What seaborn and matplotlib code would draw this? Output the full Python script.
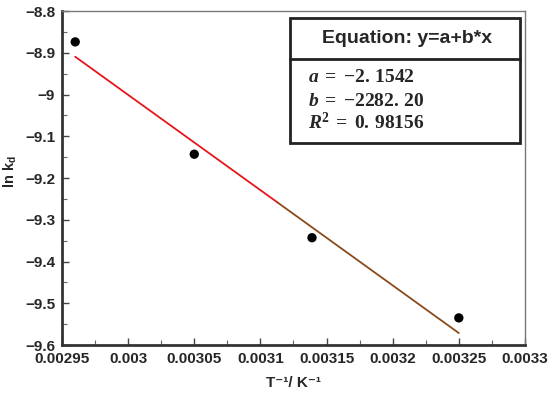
import numpy as np
import pandas as pd
import seaborn as sns
import matplotlib.pyplot as plt
from matplotlib.patches import Rectangle
from matplotlib.ticker import MultipleLocator, FuncFormatter

# Datos experimentales (ln kd frente a 1/T)
inv_T = [0.00296, 0.00305, 0.003139, 0.00325]
ln_kd = [-8.874, -9.143, -9.343, -9.535]

# Parámetros del ajuste lineal
a_fit = -2.1542
b_fit = -2282.20
r2_fit = 0.98156
x_red = [0.00296, 0.003113]
x_brown = [0.003113, 0.00325]

sns.set_theme(style="ticks")
plt.rcParams['font.family'] = ['Liberation Sans', 'DejaVu Sans']
plt.rcParams['font.weight'] = 'bold'
plt.rcParams['mathtext.fontset'] = 'custom'
plt.rcParams['mathtext.rm'] = 'Liberation Serif'
plt.rcParams['mathtext.it'] = 'Liberation Serif:italic'
plt.rcParams['mathtext.bf'] = 'Liberation Serif:bold'
plt.rcParams['mathtext.bfit'] = 'Liberation Serif:italic:bold'

fig = plt.figure(figsize=(5.5, 3.93), dpi=100)
ax = fig.add_axes([0.1127, 0.1221, 0.8418, 0.8499])

df = pd.DataFrame({"x": inv_T, "y": ln_kd})
fit_red = pd.DataFrame({"x": x_red, "y": [a_fit + b_fit * v for v in x_red]})
fit_brown = pd.DataFrame({"x": x_brown, "y": [a_fit + b_fit * v for v in x_brown]})

sns.lineplot(data=fit_red, x="x", y="y", color="#e8141c", lw=1.3, ax=ax)
sns.lineplot(data=fit_brown, x="x", y="y", color="#8b4a1a", lw=1.3, ax=ax)
sns.scatterplot(data=df, x="x", y="y", color="black", s=45, edgecolor="none", ax=ax, zorder=5)

ax.set_xlim(0.00295, 0.0033)
ax.set_ylim(-9.6, -8.8)
ax.xaxis.set_major_locator(MultipleLocator(0.00005))
ax.xaxis.set_minor_locator(MultipleLocator(0.000025))
ax.yaxis.set_major_locator(MultipleLocator(0.1))
ax.yaxis.set_minor_locator(MultipleLocator(0.05))
fmt = FuncFormatter(lambda v, p: ('%g' % round(v, 6)).replace('-', '\u2212'))
ax.xaxis.set_major_formatter(fmt)
ax.yaxis.set_major_formatter(fmt)
ax.tick_params(which='both', direction='in', top=False, right=False, labelsize=11, pad=5)
ax.tick_params(which='major', length=5, width=1, color='#444')
ax.tick_params(which='minor', length=3.5, width=0.8, color='#666')

for s in ['left', 'bottom']:
    ax.spines[s].set_linewidth(2)
    ax.spines[s].set_color('#333333')
for s in ['top', 'right']:
    ax.spines[s].set_linewidth(1)
    ax.spines[s].set_color('#777777')

ax.set_xlabel('T\u207b\u00b9/ K\u207b\u00b9', fontsize=11, fontweight='bold', labelpad=7)
ax.set_ylabel(r'ln k$_{\mathregular{d}}$', fontsize=10.5, fontweight='bold', labelpad=4)
ax.yaxis.label.set_y(0.52)

# Cuadro con la ecuación
ax.add_patch(Rectangle((0.4925, 0.605), 0.4965, 0.374, transform=ax.transAxes,
                       fill=False, lw=2, ec='#222222', zorder=6))
ax.plot([0.4925, 0.989], [0.856, 0.856], transform=ax.transAxes, color='#222222', lw=2, zorder=6)
ax.text(0.745, 0.917, 'Equation: y=a+b*x', transform=ax.transAxes, ha='center', va='center',
        fontsize=14, fontweight='bold')
a_int, a_dec = f"{-a_fit:.4f}".split('.')
b_int, b_dec = f"{-b_fit:.2f}".split('.')
r_int, r_dec = f"{r2_fit:.5f}".split('.')
lines = [r'$\mathbfit{a}\;=\;\mathbf{{-}%s.\,%s}$' % (a_int, a_dec),
         r'$\mathbfit{b}\;=\;\mathbf{{-}%s.\,%s}$' % (b_int, b_dec),
         r'$\mathbfit{R}^{\mathbf{2}}\;=\;\mathbf{%s.\,%s}$' % (r_int, r_dec)]
for txt, yy in zip(lines, [0.787, 0.717, 0.645]):
    ax.text(0.531, yy, txt, transform=ax.transAxes, ha='left', va='baseline', fontsize=14)

fig.canvas.draw()
for lab in ax.get_xticklabels() + ax.get_yticklabels():
    lab.set_fontweight('bold')

fig.savefig('out.png', dpi=100)
